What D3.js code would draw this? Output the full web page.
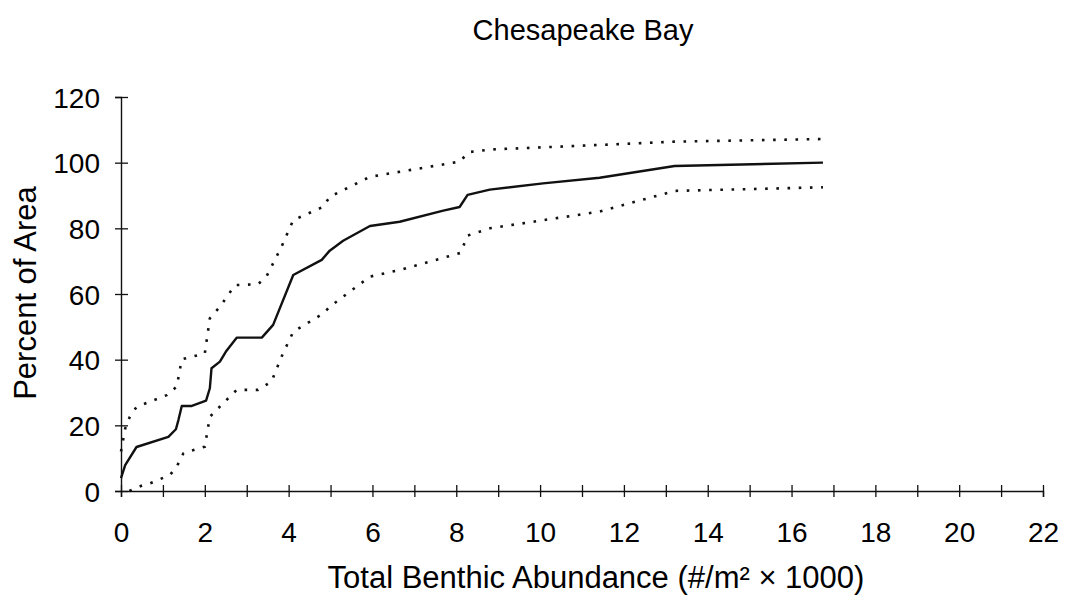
<!DOCTYPE html>
<html>
<head>
<meta charset="utf-8">
<script src="https://cdn.jsdelivr.net/npm/d3@7"></script>
<style>
  body { margin: 0; background: #fff; }
  svg text { font-family: "Liberation Sans", Arial, sans-serif; fill: #000; }
</style>
</head>
<body>
<div id="plot"></div>
<script>
// mean cumulative distribution (solid)
const meanX = [0, 0.1, 0.37, 1.13, 1.31, 1.37, 1.45, 1.69, 2.03, 2.12, 2.16, 2.36, 2.5, 2.76, 3.36, 3.63, 4.11, 4.79, 4.98, 5.3, 5.94, 6.65, 7.69, 8.08, 8.27, 8.8, 10.07, 11.42, 13.21, 16.75];
const meanY = [3.9, 7.9, 13.4, 16.5, 18.8, 21.6, 25.9, 25.9, 27.5, 31.3, 37.4, 39.4, 42.4, 46.7, 46.7, 50.6, 65.8, 70.4, 73.2, 76.2, 80.7, 82.0, 85.4, 86.5, 90.2, 91.8, 93.7, 95.4, 99.0, 100.0];

// upper confidence bound (dotted)
const upperX = [0, 0.05, 0.1, 0.21, 0.37, 0.69, 1.09, 1.33, 1.45, 2.0, 2.12, 2.36, 2.72, 3.27, 3.47, 3.83, 4.11, 4.83, 4.98, 5.94, 8.08, 8.3, 8.8, 11.42, 13.21, 16.7];
const upperY = [12, 15.5, 19, 22.6, 25.6, 27.2, 29.2, 31.8, 40.1, 41.9, 52.6, 56.1, 62.7, 63.0, 65.3, 74.4, 82.5, 86.6, 89.6, 95.7, 100.3, 103.2, 104.0, 105.4, 106.4, 107.2];

// lower confidence bound (dotted)
const lowerX = [0.2, 0.33, 0.53, 0.69, 1.17, 1.33, 1.49, 2.0, 2.12, 2.32, 2.76, 3.27, 3.59, 3.83, 4.11, 4.83, 4.98, 5.94, 6.65, 8.1, 8.27, 8.8, 11.42, 13.21, 16.75];
const lowerY = [0, 0.8, 1.8, 2.3, 4.9, 7.4, 11.5, 13.5, 22.6, 25.2, 30.8, 30.8, 33.3, 40.9, 48.5, 54.1, 56.1, 65.3, 67.3, 72.5, 77.8, 80.0, 85.1, 91.4, 92.5];

const xTicks = d3.range(0, 23, 1);
const yTicks = [0, 20, 40, 60, 80, 100, 120];

const W = 1066, H = 599;
const margin = { top: 97, right: 23, bottom: 108, left: 121 };
const width = W - margin.left - margin.right;
const height = H - margin.top - margin.bottom;

const svg = d3.select("#plot")
  .append("svg")
  .attr("width", W)
  .attr("height", H);

const g = svg.append("g")
  .attr("transform", `translate(${margin.left},${margin.top})`);

const x = d3.scaleLinear().domain([0, 22]).range([0, width]);
const y = d3.scaleLinear().domain([0, 120]).range([height, 0]);

// x axis, ticks crossing the line
const xAxis = g.append("g")
  .attr("transform", `translate(0,${height})`)
  .call(d3.axisBottom(x)
    .tickValues(xTicks)
    .tickSize(6)
    .tickPadding(25)
    .tickFormat(d => d % 2 === 0 ? d : ""));
xAxis.select(".domain").attr("stroke", "#111").attr("stroke-width", 1.4);
xAxis.selectAll(".tick line").attr("y1", -6).attr("stroke", "#111").attr("stroke-width", 1.3);
xAxis.selectAll(".tick text").style("font-size", "28px");

// y axis
const yAxis = g.append("g")
  .call(d3.axisLeft(y)
    .tickValues(yTicks)
    .tickSize(6)
    .tickPadding(15));
yAxis.select(".domain").attr("stroke", "#111").attr("stroke-width", 1.4);
yAxis.selectAll(".tick line").attr("x1", 7).attr("stroke", "#111").attr("stroke-width", 1.3);
yAxis.selectAll(".tick text").style("font-size", "28px").attr("dy", "0.36em");

const line = d3.line()
  .x(d => x(d[0]))
  .y(d => y(d[1]));

g.append("path")
  .datum(d3.zip(upperX, upperY))
  .attr("fill", "none")
  .attr("stroke", "#111")
  .attr("stroke-width", 2.6)
  .attr("stroke-dasharray", "2.6,8.6")
  .attr("d", line);

g.append("path")
  .datum(d3.zip(lowerX, lowerY))
  .attr("fill", "none")
  .attr("stroke", "#111")
  .attr("stroke-width", 2.6)
  .attr("stroke-dasharray", "2.6,8.6")
  .attr("d", line);

g.append("path")
  .datum(d3.zip(meanX, meanY))
  .attr("fill", "none")
  .attr("stroke", "#111")
  .attr("stroke-width", 2.4)
  .attr("stroke-linejoin", "round")
  .attr("d", line);

// title and axis labels
svg.append("text")
  .attr("x", 583)
  .attr("y", 40)
  .attr("text-anchor", "middle")
  .style("font-size", "29px")
  .text("Chesapeake Bay");

svg.append("text")
  .attr("x", 596)
  .attr("y", 588)
  .attr("text-anchor", "middle")
  .style("font-size", "31px")
  .text("Total Benthic Abundance (#/m² × 1000)");

svg.append("text")
  .attr("transform", "translate(36,293) rotate(-90)")
  .attr("text-anchor", "middle")
  .style("font-size", "31px")
  .text("Percent of Area");
</script>
</body>
</html>
